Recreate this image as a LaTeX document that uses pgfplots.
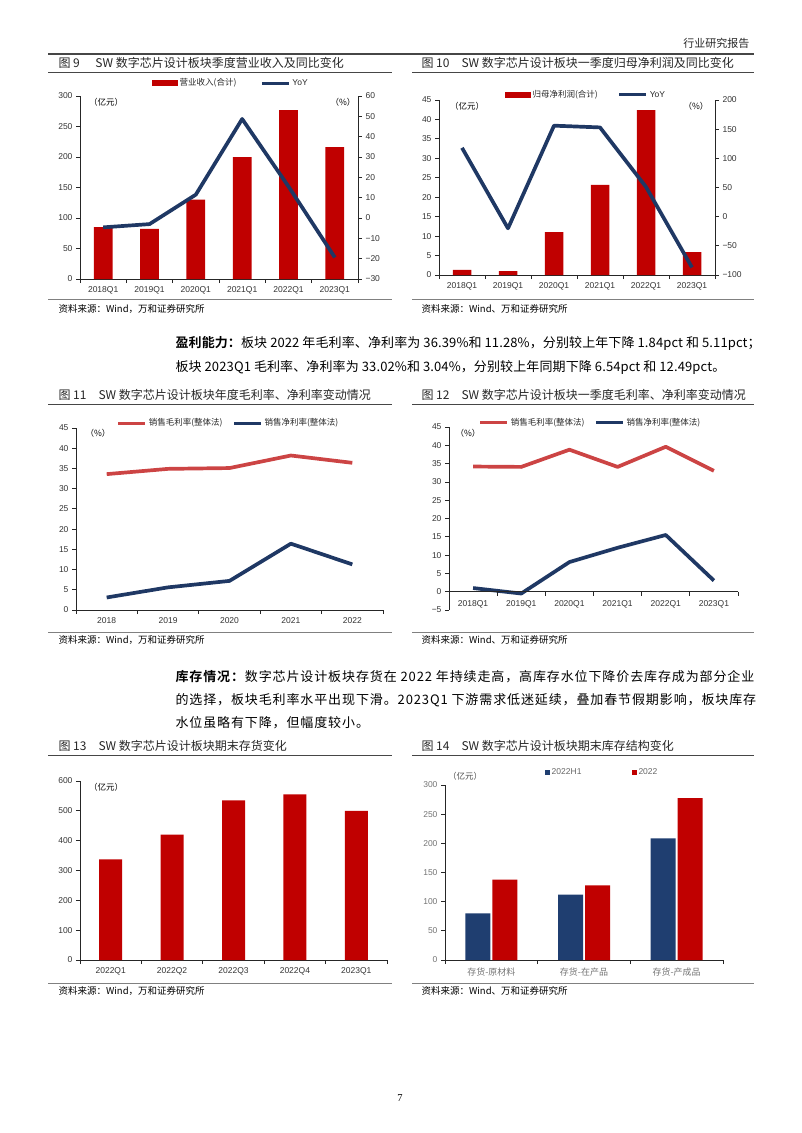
\documentclass[border=0pt]{standalone}
\usepackage{fontspec}
\setmainfont{Liberation Sans}
\newfontfamily\cjk{Noto Sans CJK SC}[BoldFont={Noto Sans CJK SC Bold}]
\newfontfamily\cjkwide{Noto Sans CJK SC}[BoldFont={Noto Sans CJK SC Bold}, LetterSpace=6.8]
\newfontfamily\cjkmid{Noto Sans CJK SC}[BoldFont={Noto Sans CJK SC Bold}, LetterSpace=0.9]
\newfontfamily\serifnum{Liberation Serif}
\usepackage{pgfplots}
\pgfplotsset{compat=1.18}
\definecolor{barred}{RGB}{192,0,0}
\definecolor{navy}{RGB}{31,56,100}
\definecolor{navyb}{RGB}{31,62,112}
\definecolor{lred}{RGB}{204,68,68}
\definecolor{rulec}{RGB}{70,70,70}
\pgfplotsset{
  base/.style={
    scale only axis, anchor=south west, clip=false,
    axis line style={black!85, line width=0.8pt},
    tick style={black!85, line width=0.8pt},
    tick align=outside, major tick length=4pt,
    ticklabel style={font=\fontsize{8.5}{10}\selectfont, text=black!80},
    /pgf/number format/assume math mode=true,
    legend style={draw=none, fill=none, legend columns=2,
      font=\cjk\fontsize{8.5}{10}\selectfont, text=black!85},
  },
  cats/.style={xmin=-0.5, xmax=#1+0.5, xtick={-0.5,0.5,...,#1.5}, x tick label as interval},
  linelegend/.style={legend image code/.code={\draw[#1, line width=3pt] (0pt,0pt) -- (27pt,0pt);}},
}
\newcommand{\cn}{\cjk\fontsize{8.5}{10}\selectfont}
\newcommand{\ttl}{\cjk\fontsize{12}{13}\selectfont}
\newcommand{\src}{\cjk\fontsize{9.5}{11}\selectfont}
\begin{document}
\begin{tikzpicture}
\useasboundingbox (0pt,0pt) rectangle (802pt,-1133pt);
% header
\node[anchor=east, font=\cjk\fontsize{11}{13}\selectfont, text=black!85] at (753pt,-43pt) {行业研究报告};
\draw[rulec, line width=1.2pt] (48pt,-54pt) -- (754pt,-54pt);
% titles
\node[anchor=west, font=\ttl, text=black!85] at (55pt,-63pt) {图 9\hspace{1.3em}SW 数字芯片设计板块季度营业收入及同比变化};
\node[anchor=west, font=\ttl, text=black!85] at (418pt,-63pt) {图 10\hspace{1em}SW 数字芯片设计板块一季度归母净利润及同比变化};
\draw[rulec, line width=1pt] (48pt,-72pt) -- (392pt,-72pt);
\draw[rulec, line width=1pt] (412pt,-72pt) -- (754pt,-72pt);
% sources row 1
\draw[black!50, line width=0.9pt] (48pt,-299pt) -- (392pt,-299pt);
\draw[black!50, line width=0.9pt] (412pt,-299pt) -- (754pt,-299pt);
\node[anchor=west, font=\src] at (55pt,-309pt) {资料来源：Wind，万和证券研究所};
\node[anchor=west, font=\src] at (418pt,-309pt) {资料来源：Wind、万和证券研究所};

% ===== Chart 9 =====
\begin{axis}[base, at={(80pt,-279pt)}, width=278pt, height=183pt, cats=5,
  ymin=0, ymax=300, ytick={0,50,...,300},
  axis x line*=bottom, axis y line*=left,
  xticklabels={2018Q1,2019Q1,2020Q1,2021Q1,2022Q1,2023Q1},
  ybar, bar width=18.7pt]
\addplot[fill=barred, draw=none] coordinates {(0,85) (1,82) (2,130) (3,200) (4,277) (5,216)};
\end{axis}
\begin{axis}[base, at={(80pt,-279pt)}, width=278pt, height=183pt,
  xmin=-0.5, xmax=5.5, ymin=-30, ymax=60, ytick={-30,-20,...,60},
  yticklabels={−30,−20,−10,0,10,20,30,40,50,60},
  axis x line=none, axis y line*=right,
  legend style={at={(0.543,1.071)}, anchor=center, /tikz/every even column/.append style={column sep=22pt}}]
\addlegendimage{legend image code/.code={\fill[barred] (0pt,-2.5pt) rectangle (25pt,2.5pt);}}
\addlegendentry{营业收入(合计)}
\addplot[navy, line width=3.7pt, line join=round, linelegend=navy] coordinates {(0,-4.6) (1,-3) (2,11.5) (3,48.7) (4,15.5) (5,-19.4)};
\addlegendentry{{\normalfont YoY}}
\end{axis}
\node[font=\cn] at (106pt,-102pt) {（亿元）};
\node[font=\cn] at (343pt,-102pt) {（\%）};

% ===== Chart 10 =====
\begin{axis}[base, at={(439pt,-275pt)}, width=276pt, height=175pt, cats=5,
  ymin=0, ymax=45, ytick={0,5,...,45},
  axis x line*=bottom, axis y line*=left,
  xticklabels={2018Q1,2019Q1,2020Q1,2021Q1,2022Q1,2023Q1},
  ybar, bar width=18.5pt]
\addplot[fill=barred, draw=none] coordinates {(0,1.3) (1,1.0) (2,11.0) (3,23.2) (4,42.4) (5,5.9)};
\end{axis}
\begin{axis}[base, at={(439pt,-275pt)}, width=276pt, height=175pt,
  xmin=-0.5, xmax=5.5, ymin=-100, ymax=200, ytick={-100,-50,...,200},
  yticklabels={−100,−50,0,50,100,150,200},
  axis x line=none, axis y line*=right,
  legend style={at={(0.533,1.029)}, anchor=center, /tikz/every even column/.append style={column sep=18pt}}]
\addlegendimage{legend image code/.code={\fill[barred] (0pt,-2.5pt) rectangle (25pt,2.5pt);}}
\addlegendentry{归母净利润(合计)}
\addplot[navy, line width=3.7pt, line join=round, linelegend=navy] coordinates {(0,118) (1,-20) (2,156) (3,153) (4,51) (5,-87)};
\addlegendentry{{\normalfont YoY}}
\end{axis}
\node[font=\cn] at (467pt,-106pt) {（亿元）};
\node[font=\cn] at (696pt,-106pt) {（\%）};

% ===== paragraph 1 =====
\node[anchor=west, font=\cjkmid\fontsize{13}{15}\selectfont] at (172pt,-343pt) {\textbf{盈利能力：}板块 2022 年毛利率、净利率为 36.39\%和 11.28\%，分别较上年下降 1.84pct 和 5.11pct；};
\node[anchor=west, font=\cjkmid\fontsize{13}{15}\selectfont] at (172pt,-367pt) {板块 2023Q1 毛利率、净利率为 33.02\%和 3.04\%，分别较上年同期下降 6.54pct 和 12.49pct。};

% titles row 2
\node[anchor=west, font=\ttl, text=black!85] at (55pt,-395pt) {图 11\hspace{1em}SW 数字芯片设计板块年度毛利率、净利率变动情况};
\node[anchor=west, font=\ttl, text=black!85] at (418pt,-395pt) {图 12\hspace{1em}SW 数字芯片设计板块一季度毛利率、净利率变动情况};
\draw[rulec, line width=1pt] (48pt,-404pt) -- (392pt,-404pt);
\draw[rulec, line width=1pt] (412pt,-404pt) -- (754pt,-404pt);
\draw[black!50, line width=0.9pt] (48pt,-632pt) -- (392pt,-632pt);
\draw[black!50, line width=0.9pt] (412pt,-632pt) -- (754pt,-632pt);
\node[anchor=west, font=\src] at (55pt,-640pt) {资料来源：Wind，万和证券研究所};
\node[anchor=west, font=\src] at (418pt,-640pt) {资料来源：Wind、万和证券研究所};

% ===== Chart 11 =====
\begin{axis}[base, at={(76pt,-610pt)}, width=307pt, height=182pt, cats=4,
  ymin=0, ymax=45, ytick={0,5,...,45},
  axis x line*=bottom, axis y line*=left,
  xticklabels={2018,2019,2020,2021,2022},
  legend style={at={(0.497,1.027)}, anchor=center, /tikz/every even column/.append style={column sep=8pt}}]
\addplot[lred, line width=3.7pt, line join=round, linelegend=lred] coordinates {(0,33.6) (1,34.9) (2,35.1) (3,38.2) (4,36.39)};
\addlegendentry{销售毛利率(整体法)}
\addplot[navy, line width=3.7pt, line join=round, linelegend=navy] coordinates {(0,3.1) (1,5.6) (2,7.2) (3,16.4) (4,11.28)};
\addlegendentry{销售净利率(整体法)}
\end{axis}
\node[font=\cn] at (98pt,-433pt) {（\%）};

% ===== Chart 12 =====
\begin{axis}[base, at={(449pt,-610pt)}, width=289pt, height=183pt,
  xmin=-0.5, xmax=5.5, ymin=-5, ymax=45, ytick={-5,0,...,45},
  yticklabels={−5,0,5,10,15,20,25,30,35,40,45},
  axis x line=none, axis y line*=left,
  legend style={at={(0.49,1.022)}, anchor=center, /tikz/every even column/.append style={column sep=8pt}}]
\addplot[lred, line width=3.7pt, line join=round, linelegend=lred] coordinates {(0,34.2) (1,34.1) (2,38.8) (3,34.1) (4,39.6) (5,33.02)};
\addlegendentry{销售毛利率(整体法)}
\addplot[navy, line width=3.7pt, line join=round, linelegend=navy] coordinates {(0,1.0) (1,-0.5) (2,8.1) (3,12.0) (4,15.5) (5,3.04)};
\addlegendentry{销售净利率(整体法)}
\draw[black!85, line width=0.8pt] (axis cs:-0.5,0) -- (axis cs:5.5,0);
\draw[black!85, line width=0.8pt] (axis cs:0.5,0) -- ++(0pt,-4pt) (axis cs:1.5,0) -- ++(0pt,-4pt) (axis cs:2.5,0) -- ++(0pt,-4pt) (axis cs:3.5,0) -- ++(0pt,-4pt) (axis cs:4.5,0) -- ++(0pt,-4pt) (axis cs:5.5,0) -- ++(0pt,-4pt);
\node[font=\fontsize{8.5}{10}\selectfont, text=black!80, anchor=north] at ([yshift=-5pt]axis cs:0,0) {2018Q1};
\node[font=\fontsize{8.5}{10}\selectfont, text=black!80, anchor=north] at ([yshift=-5pt]axis cs:1,0) {2019Q1};
\node[font=\fontsize{8.5}{10}\selectfont, text=black!80, anchor=north] at ([yshift=-5pt]axis cs:2,0) {2020Q1};
\node[font=\fontsize{8.5}{10}\selectfont, text=black!80, anchor=north] at ([yshift=-5pt]axis cs:3,0) {2021Q1};
\node[font=\fontsize{8.5}{10}\selectfont, text=black!80, anchor=north] at ([yshift=-5pt]axis cs:4,0) {2022Q1};
\node[font=\fontsize{8.5}{10}\selectfont, text=black!80, anchor=north] at ([yshift=-5pt]axis cs:5,0) {2023Q1};
\end{axis}
\node[font=\cn] at (468pt,-433pt) {（\%）};

% ===== paragraph 2 =====
\node[anchor=west, font=\cjkwide\fontsize{13}{15}\selectfont] at (172pt,-677pt) {\textbf{库存情况：}数字芯片设计板块存货在 2022 年持续走高，高库存水位下降价去库存成为部分企业};
\node[anchor=west, font=\cjkwide\fontsize{13}{15}\selectfont] at (172pt,-700pt) {的选择，板块毛利率水平出现下滑。2023Q1 下游需求低迷延续，叠加春节假期影响，板块库存};
\node[anchor=west, font=\cjkwide\fontsize{13}{15}\selectfont] at (172pt,-723pt) {水位虽略有下降，但幅度较小。};

% titles row 3
\node[anchor=west, font=\ttl, text=black!85] at (55pt,-746pt) {图 13\hspace{1em}SW 数字芯片设计板块期末存货变化};
\node[anchor=west, font=\ttl, text=black!85] at (418pt,-746pt) {图 14\hspace{1em}SW 数字芯片设计板块期末库存结构变化};
\draw[rulec, line width=1pt] (48pt,-755pt) -- (392pt,-755pt);
\draw[rulec, line width=1pt] (412pt,-755pt) -- (754pt,-755pt);
\draw[black!50, line width=0.9pt] (48pt,-983pt) -- (392pt,-983pt);
\draw[black!50, line width=0.9pt] (412pt,-983pt) -- (754pt,-983pt);
\node[anchor=west, font=\src] at (55pt,-991pt) {资料来源：Wind，万和证券研究所};
\node[anchor=west, font=\src] at (418pt,-991pt) {资料来源：Wind、万和证券研究所};

% ===== Chart 13 =====
\begin{axis}[base, at={(80pt,-960pt)}, width=307pt, height=179pt, cats=4,
  ymin=0, ymax=600, ytick={0,100,...,600},
  axis x line*=bottom, axis y line*=left,
  xticklabels={2022Q1,2022Q2,2022Q3,2022Q4,2023Q1},
  ybar, bar width=23pt]
\addplot[fill=barred, draw=none] coordinates {(0,337) (1,420) (2,535) (3,555) (4,500)};
\end{axis}
\node[font=\cn] at (106pt,-787pt) {（亿元）};

% ===== Chart 14 =====
\begin{axis}[base, at={(445pt,-960pt)}, width=278pt, height=175pt, cats=2,
  ymin=0, ymax=300, ytick={0,50,...,300},
  axis x line*=bottom, axis y line*=left,
  ticklabel style={text=black!55},
  xticklabels={存货-原材料,存货-在产品,存货-产成品},
  x tick label style={font=\cjk\fontsize{9}{10}\selectfont},
  ybar, bar width=25pt,
  legend style={at={(0.565,1.074)}, anchor=center, font=\fontsize{8.5}{10}\selectfont, text=black!60,
    /tikz/every even column/.append style={column sep=48pt}}]
\addplot[fill=navyb, draw=none, legend image code/.code={\fill[navyb] (0pt,-2.5pt) rectangle (5pt,2.5pt);}] coordinates {(0,80) (1,112) (2,208.6)};
\addlegendentry{2022H1}
\addplot[fill=barred, draw=none, legend image code/.code={\fill[barred] (0pt,-2.5pt) rectangle (5pt,2.5pt);}] coordinates {(0,138) (1,128) (2,277.7)};
\addlegendentry{2022}
\end{axis}
\node[font=\cn, text=black!70] at (465pt,-776pt) {（亿元）};

% page number
\node[font=\serifnum\fontsize{10.5}{12}\selectfont] at (400pt,-1098pt) {7};
\end{tikzpicture}
\end{document}
